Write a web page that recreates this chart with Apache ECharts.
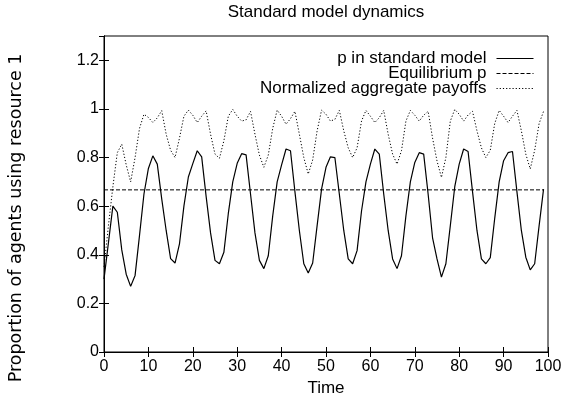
<!DOCTYPE html>
<html>
<head>
<meta charset="utf-8">
<script src="https://cdn.jsdelivr.net/npm/echarts@6/dist/echarts.min.js"></script>
<style>html,body{margin:0;padding:0;background:#fff}#c{width:562px;height:393px}</style>
</head>
<body>
<div id="c"></div>
<script>
var time = [];
for (var i = 0; i < 100; i++) time.push(i);
var pStandard = [0.30,0.45,0.60,0.575,0.42,0.32,0.27,0.315,0.48,0.65,
0.755,0.807,0.773,0.63,0.50,0.384,0.366,0.445,0.60,0.72,
0.775,0.828,0.803,0.64,0.49,0.377,0.363,0.41,0.57,0.70,
0.776,0.816,0.811,0.65,0.49,0.377,0.343,0.396,0.56,0.70,
0.77,0.835,0.828,0.66,0.50,0.363,0.325,0.366,0.52,0.67,
0.76,0.803,0.80,0.65,0.50,0.383,0.363,0.417,0.58,0.70,
0.773,0.835,0.814,0.65,0.50,0.383,0.343,0.396,0.56,0.70,
0.78,0.82,0.814,0.65,0.47,0.383,0.308,0.363,0.52,0.68,
0.773,0.835,0.825,0.66,0.50,0.383,0.363,0.388,0.55,0.70,
0.787,0.82,0.825,0.66,0.50,0.39,0.338,0.363,0.52,0.67];
var payoffs = [0.35,0.52,0.68,0.82,0.855,0.77,0.70,0.80,0.92,0.978,
0.965,0.944,0.963,0.993,0.896,0.83,0.80,0.88,0.97,0.995,
0.974,0.944,0.97,0.992,0.896,0.814,0.797,0.869,0.97,0.998,
0.97,0.95,0.955,0.99,0.896,0.81,0.76,0.81,0.92,0.995,
0.97,0.937,0.96,0.99,0.896,0.80,0.732,0.79,0.91,0.995,
0.978,0.95,0.957,0.994,0.91,0.84,0.80,0.84,0.95,0.994,
0.97,0.944,0.964,0.994,0.896,0.814,0.773,0.828,0.95,0.994,
0.974,0.95,0.974,0.99,0.88,0.786,0.718,0.80,0.95,0.998,
0.978,0.95,0.975,0.99,0.91,0.84,0.80,0.83,0.94,0.994,
0.97,0.944,0.97,0.994,0.91,0.814,0.753,0.83,0.94,0.99];
var equilibriumP = 0.667;
var eqTimes = [0, 99];
var xTicks = [0,10,20,30,40,50,60,70,80,90,100];
var yTicks = [0,0.2,0.4,0.6,0.8,1,1.2];

function pairs(xs, ys){ return xs.map(function(x,i){ return [x, ys[i]]; }); }
var FONT = 'Liberation Sans, Arial, Helvetica, sans-serif';
var chart = echarts.init(document.getElementById('c'), null, {renderer:'canvas'});
var tickStyle = {inside:true, length:5, lineStyle:{color:'#000', width:1}};
chart.setOption({
  animation:false,
  backgroundColor:'#fff',
  title:{text:'Standard model dynamics', left:326, top:4, padding:0, textAlign:'center',
    textStyle:{fontFamily:FONT, fontSize:17, fontWeight:'normal', color:'#000'}},
  legend:{orient:'vertical', align:'right', right:28, top:50, padding:0, itemWidth:37, itemHeight:12, itemGap:-2,
    itemStyle:{opacity:0, borderWidth:0}, lineStyle:{width:1},
    textStyle:{fontFamily:FONT, fontSize:17, lineHeight:15, color:'#000', padding:[0,5,0,0]},
    data:['p in standard model','Equilibrium p','Normalized aggregate payoffs']},
  grid:{left:104, right:14, top:36, bottom:41, show:true, borderColor:'#000', borderWidth:1,
    containLabel:false, outerBoundsMode:'none'},
  xAxis:[{type:'value', min:0, max:100, interval:10, name:'Time', nameLocation:'middle', nameGap:23,
    nameTextStyle:{fontFamily:FONT, fontSize:17, color:'#000'},
    axisLine:{lineStyle:{color:'#000'}}, axisTick:tickStyle, splitLine:{show:false},
    axisLabel:{fontFamily:FONT, fontSize:16, color:'#000', margin:7}},
    {type:'value', position:'top', min:0, max:100, interval:10, axisLine:{lineStyle:{color:'#000'}},
    axisTick:tickStyle, axisLabel:{show:false}, splitLine:{show:false}}],
  yAxis:[{type:'value', min:0, max:1.3, interval:0.2, name:'Proportion of agents using resource 1',
    nameLocation:'middle', nameGap:79,
    nameTextStyle:{fontFamily:'DejaVu Sans, sans-serif', fontSize:17.5, color:'#000', padding:[0,48,0,0]},
    axisLine:{lineStyle:{color:'#000'}}, axisTick:tickStyle, splitLine:{show:false},
    axisLabel:{fontFamily:FONT, fontSize:16, color:'#000', margin:5, showMaxLabel:false,
      formatter:function(v){ return yTicks.indexOf(+v.toFixed(2))>=0 ? String(+v.toFixed(2)) : ''; }}},
    {type:'value', position:'right', min:0, max:1.3, interval:0.2, axisLine:{lineStyle:{color:'#000'}},
    axisTick:tickStyle, axisLabel:{show:false}, splitLine:{show:false}}],
  series:[
    {name:'p in standard model', type:'line', data:pairs(time,pStandard), symbol:'none',
      lineStyle:{color:'#000', width:1.2}, itemStyle:{color:'#000'}},
    {name:'Equilibrium p', type:'line', data:eqTimes.map(function(t){return [t,equilibriumP];}), symbol:'none',
      lineStyle:{color:'#000', width:1, type:[4,2]}, itemStyle:{color:'#000'}},
    {name:'Normalized aggregate payoffs', type:'line', data:pairs(time,payoffs), symbol:'none',
      lineStyle:{color:'#000', width:1, type:[1.2,2]}, itemStyle:{color:'#000'}}
  ]
});
</script>
</body>
</html>
